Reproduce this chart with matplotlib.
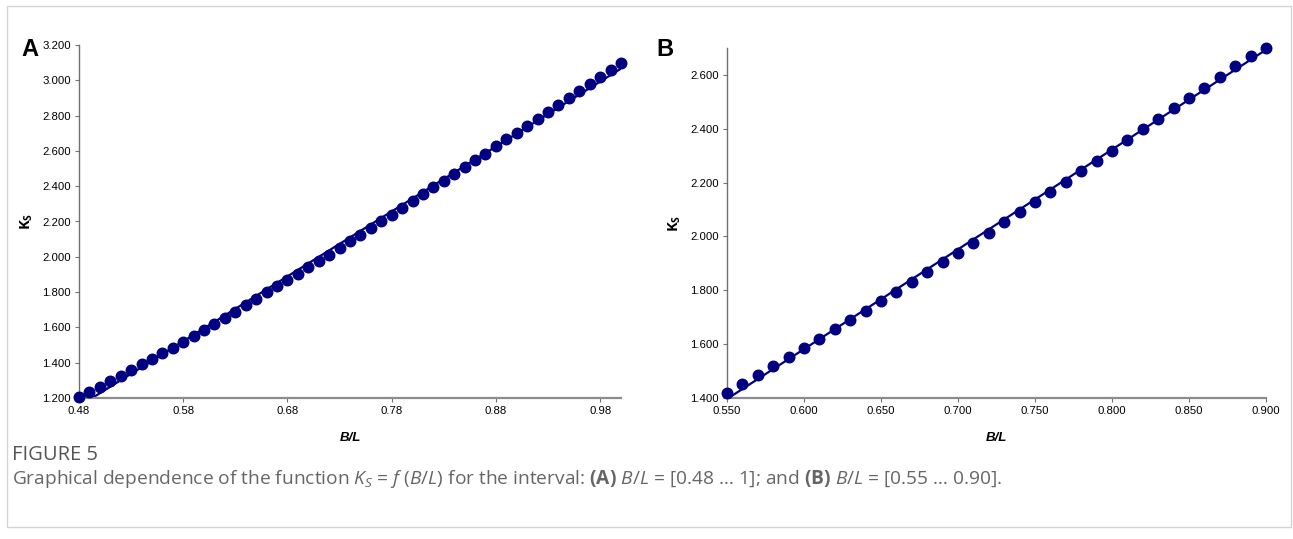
import matplotlib
matplotlib.use("Agg")
import matplotlib.pyplot as plt
from matplotlib.patches import Rectangle
import numpy as np

plt.rcParams['font.family'] = ['Liberation Sans', 'DejaVu Sans']
plt.rcParams['mathtext.fontset'] = 'custom'
plt.rcParams['mathtext.rm'] = 'Open Sans'
plt.rcParams['mathtext.it'] = 'Open Sans:italic'
plt.rcParams['mathtext.bf'] = 'Open Sans:bold'

# panel A: B/L from 0.48 to 1.00
bl_a = [0.48, 0.49, 0.50, 0.51, 0.52, 0.53, 0.54, 0.55, 0.56, 0.57,
        0.58, 0.59, 0.60, 0.61, 0.62, 0.63, 0.64, 0.65, 0.66, 0.67,
        0.68, 0.69, 0.70, 0.71, 0.72, 0.73, 0.74, 0.75, 0.76, 0.77,
        0.78, 0.79, 0.80, 0.81, 0.82, 0.83, 0.84, 0.85, 0.86, 0.87,
        0.88, 0.89, 0.90, 0.91, 0.92, 0.93, 0.94, 0.95, 0.96, 0.97,
        0.98, 0.99, 1.00]
ks_a = [1.204, 1.233, 1.263, 1.294, 1.326, 1.358, 1.390, 1.421, 1.453, 1.486,
        1.518, 1.552, 1.586, 1.619, 1.654, 1.690, 1.725, 1.763, 1.799, 1.835,
        1.869, 1.904, 1.941, 1.975, 2.012, 2.050, 2.089, 2.125, 2.164, 2.202,
        2.239, 2.277, 2.316, 2.355, 2.395, 2.432, 2.470, 2.509, 2.547, 2.585,
        2.627, 2.665, 2.703, 2.741, 2.782, 2.822, 2.862, 2.900, 2.941, 2.981,
        3.020, 3.058, 3.096]

# panel B: B/L from 0.55 to 0.90
bl_b = [0.55, 0.56, 0.57, 0.58, 0.59, 0.60, 0.61, 0.62, 0.63, 0.64,
        0.65, 0.66, 0.67, 0.68, 0.69, 0.70, 0.71, 0.72, 0.73, 0.74,
        0.75, 0.76, 0.77, 0.78, 0.79, 0.80, 0.81, 0.82, 0.83, 0.84,
        0.85, 0.86, 0.87, 0.88, 0.89, 0.90]
ks_b = [1.418, 1.451, 1.484, 1.519, 1.553, 1.586, 1.621, 1.655, 1.690, 1.724,
        1.760, 1.795, 1.832, 1.868, 1.904, 1.940, 1.977, 2.014, 2.052, 2.091,
        2.129, 2.166, 2.203, 2.243, 2.282, 2.319, 2.359, 2.400, 2.437, 2.477,
        2.515, 2.553, 2.593, 2.634, 2.671, 2.700]

xticks_a = [0.48, 0.58, 0.68, 0.78, 0.88, 0.98]
yticks_a = [1.2, 1.4, 1.6, 1.8, 2.0, 2.2, 2.4, 2.6, 2.8, 3.0, 3.2]
xticks_b = [0.55, 0.60, 0.65, 0.70, 0.75, 0.80, 0.85, 0.90]
yticks_b = [1.4, 1.6, 1.8, 2.0, 2.2, 2.4, 2.6]

navy = '#000080'

fig = plt.figure(figsize=(12.93, 5.39), dpi=100)
fig.patches.append(Rectangle((7 / 1293, 1 - 527 / 539), 1284 / 1293, 521 / 539,
                             transform=fig.transFigure, fill=False,
                             edgecolor='#d4d4d4', linewidth=1.0))

ax_a = fig.add_axes([79 / 1293, 1 - 398 / 539, 542 / 1293, 353 / 539])
ax_b = fig.add_axes([727 / 1293, 1 - 398 / 539, 539 / 1293, 350 / 539])


def draw_panel(ax, x, y, xlim, ylim, xticks, yticks, xfmt, yfmt):
    x = np.array(x)
    y = np.array(y)
    k, b = np.polyfit(x, y, 1)
    xx = np.array(xlim)
    ax.plot(xx, k * xx + b, color=navy, lw=1.6, zorder=2)
    ax.plot(x, y, 'o', color=navy, markersize=7.6, zorder=3, clip_on=False)
    ax.set_xlim(*xlim)
    ax.set_ylim(*ylim)
    ax.set_xticks(xticks)
    ax.set_yticks(yticks)
    ax.set_xticklabels([xfmt.format(v) for v in xticks])
    ax.set_yticklabels([yfmt.format(v) for v in yticks])
    for s in ['top', 'right']:
        ax.spines[s].set_visible(False)
    ax.spines['bottom'].set_color('#8c8c8c')
    ax.spines['bottom'].set_linewidth(1.6)
    ax.spines['left'].set_color('#707070')
    ax.spines['left'].set_linewidth(1.0)
    ax.tick_params(axis='both', direction='out', length=3, width=0.8,
                   color='#707070', labelsize=8.2, pad=3)
    ax.set_xlabel('B/L', fontsize=9.5, fontweight='bold', fontstyle='italic', labelpad=11)
    ax.set_ylabel('$\\mathbf{K_S}$', fontsize=10.5)


draw_panel(ax_a, bl_a, ks_a, (0.48, 1.0), (1.2, 3.2), xticks_a, yticks_a,
           '{:.2f}', '{:.3f}')
draw_panel(ax_b, bl_b, ks_b, (0.55, 0.90), (1.4, 2.7), xticks_b, yticks_b,
           '{:.3f}', '{:.3f}')

ax_a.yaxis.set_label_coords(-0.082, 0.5)
ax_b.yaxis.set_label_coords(-0.082, 0.5)

fig.text(30 / 1293, 1 - 49 / 539, 'A', fontsize=17, fontweight='bold',
         ha='center', va='center')
fig.text(665 / 1293, 1 - 50 / 539, 'B', fontsize=17, fontweight='bold',
         ha='center', va='center')

fig.text(12 / 1293, 1 - 455 / 539, 'FIGURE 5', fontsize=14.5, color='#555555',
         family='Open Sans', ha='left', va='center')
caption = ('Graphical dependence of the function $K_S$ = $f$ ($B/L$) for the interval: '
           '$\\mathbf{(A)}$ $B/L$ = [0.48 … 1]; and $\\mathbf{(B)}$ $B/L$ = [0.55 … 0.90].')
fig.text(12 / 1293, 1 - 479 / 539, caption, fontsize=13.8, color='#666666',
         family='Open Sans', ha='left', va='center')

fig.savefig('out.png', dpi=100)
